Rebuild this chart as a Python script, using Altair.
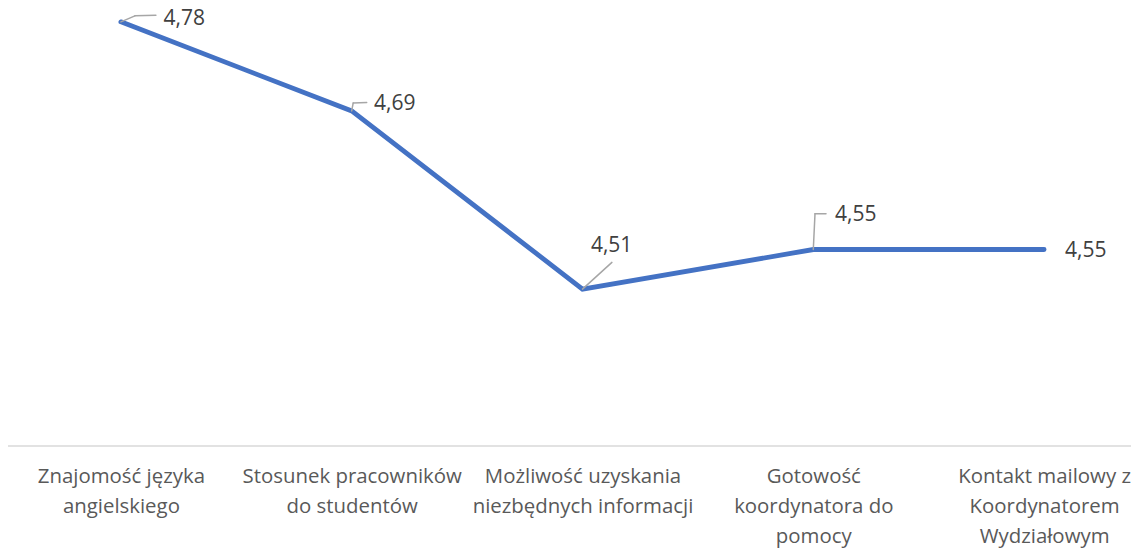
import altair as alt
import pandas as pd

categories = [
    "Znajomość języka angielskiego",
    "Stosunek pracowników do studentów",
    "Możliwość uzyskania niezbędnych informacji",
    "Gotowość koordynatora do pomocy",
    "Kontakt mailowy z Koordynatorem Wydziałowym",
]
values = [4.78, 4.69, 4.51, 4.55, 4.55]
value_labels = ["4,78", "4,69", "4,51", "4,55", "4,55"]
label_lines = [
    ["Znajomość języka", "angielskiego"],
    ["Stosunek pracowników", "do studentów"],
    ["Możliwość uzyskania", "niezbędnych informacji"],
    ["Gotowość", "koordynatora do", "pomocy"],
    ["Kontakt mailowy z", "Koordynatorem", "Wydziałowym"],
]

# --- styling / label placement (pixels, relative to the data point) ---
label_offsets = [(42.6, 3.2), (22.3, -1.0), (8.4, -37.0), (21.7, -28.7), (21.0, 7.6)]
leader_paths = [
    [(0, 0), (14, -6), (35, -6.5)],
    [(0, 0), (1.5, -8), (15, -8.5)],
    [(0, 0), (29.4, -26.7)],
    [(0, 0), (1.7, -35.7), (12.7, -35.7)],
    [],
]
FONT = "Open Sans"

df = pd.DataFrame({"cat": categories, "val": values, "lbl": value_labels})

expr = "''"
for c, lines in zip(reversed(categories), reversed(label_lines)):
    arr = "[" + ",".join("'" + s + "'" for s in lines) + "]"
    expr = f"datum.value == '{c}' ? {arr} : ({expr})"

x_enc = alt.X(
    "cat:N", sort=categories,
    scale=alt.Scale(type="point", range=[-2.5, 1151.5], padding=0.5),
    axis=alt.Axis(title=None, ticks=False, grid=False, domain=True,
                  domainColor="#D9D9D9", domainWidth=1.5,
                  labelAngle=0, labelFont=FONT, labelFontSize=20.4,
                  labelColor="#595959", labelPadding=21, labelLineHeight=30,
                  labelExpr=expr, labelLimit=400, labelOverlap=False,
                  labelAlign="center", labelBaseline="top"),
)
y_scale = alt.Scale(domain=[4.352, 4.794], zero=False, nice=False)
y_enc = alt.Y("val:Q", scale=y_scale, axis=None)

base = alt.Chart(df)
layers = [base.mark_line(color="#4472C4", strokeWidth=4.8, strokeCap="round").encode(x=x_enc, y=y_enc)]

for i, c in enumerate(categories):
    sub = base.transform_filter(alt.datum.cat == c)
    path = leader_paths[i]
    for (ax, ay), (bx, by) in zip(path[:-1], path[1:]):
        layers.append(
            sub.mark_rule(color="#A6A6A6", strokeWidth=1.5, strokeCap="round",
                          xOffset=ax, yOffset=ay, x2Offset=bx, y2Offset=by).encode(
                x=alt.X("cat:N", sort=categories), y=alt.Y("val:Q"),
                x2="cat:N", y2="val:Q",
            )
        )
    dx, dy = label_offsets[i]
    layers.append(
        sub.mark_text(align="left", baseline="alphabetic", font=FONT, fontSize=21,
                      color="#404040", dx=dx, dy=dy).encode(
            x=alt.X("cat:N", sort=categories), y=alt.Y("val:Q"), text="lbl:N",
        )
    )

chart = alt.layer(*layers).properties(
    width=1123, height=437.5,
    autosize=alt.AutoSizeParams(type="none"),
    padding={"left": 0, "top": 0, "right": 0, "bottom": 103},
    background="white",
).configure_view(stroke=None)

chart.save("out.html", embed_options={"renderer": "svg", "actions": False})
